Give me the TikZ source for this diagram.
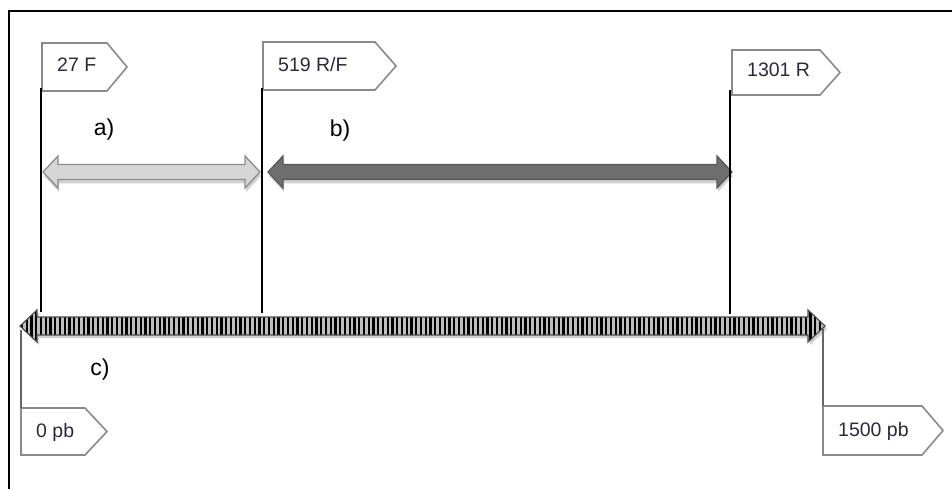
\documentclass[tikz,border=0pt]{standalone}
\usepackage{fontspec}
\setmainfont{Liberation Sans}
\definecolor{tagline}{HTML}{8A8A8A}
\definecolor{tagtxt}{HTML}{2A2A3C}
\definecolor{lightarr}{HTML}{D6D6D6}
\definecolor{lightedge}{HTML}{8C8C8C}
\definecolor{darkarr}{HTML}{6E6E6E}
\definecolor{darkedge}{HTML}{575757}
\tikzset{
  flagbox/.style={draw=tagline, line width=1.6pt, fill=white, line join=miter},
  tagtext/.style={text=tagtxt, inner sep=0pt, font=\fontsize{19.5}{19.5}\selectfont},
  lbl/.style={text=black, inner sep=0pt, font=\fontsize{23}{23}\selectfont},
  flagline/.style={draw=black, line width=2pt},
  greyline/.style={draw=black!60, line width=1.6pt},
  shadowfill/.style={fill=black, opacity=0.18},
}
\newcommand\tagflag[8]{%
  \draw[flagbox] (#2,#3) -- (#5,#3) -- (#6,{(#3+#4)/2}) -- (#5,#4) -- (#2,#4) -- cycle;
  \node[tagtext, anchor=base west] (#1) at ({#2+15},#8) {#7};
}
\newcommand\dblpath[6]{%
  (#1,#3) -- ({#1+#4},{#3-#5}) -- ({#1+#4},{#3-#6}) -- ({#2-#4},{#3-#6}) -- ({#2-#4},{#3-#5}) -- (#2,#3)
  -- ({#2-#4},{#3+#5}) -- ({#2-#4},{#3+#6}) -- ({#1+#4},{#3+#6}) -- ({#1+#4},{#3+#5}) -- cycle}
\begin{document}
\begin{tikzpicture}[x=1pt, y=-1pt]
\useasboundingbox (0,0) rectangle (952,489);
% frame
\draw[black, line width=1.6pt] (9,489) -- (9,11) -- (952,11);

% flags
\tagflag{t27}{42}{43}{91}{107}{127}{27 F}{72}
\tagflag{t519}{263}{42}{90}{375}{396}{519 R/F}{72}
\tagflag{t1301}{732}{50}{95}{820}{840}{1301 R}{77}
\tagflag{t0}{21}{408}{455}{85}{107}{0 pb}{437}
\tagflag{t1500}{823}{406}{455}{922}{943}{1500 pb}{436}

% arrow a (light)
\fill[shadowfill] \dblpath{44}{261}{176}{15}{16}{7.5};
\draw[draw=lightedge, line width=1.3pt, fill=lightarr] \dblpath{43}{260}{172}{15}{16}{7.5};
% arrow b (dark)
\fill[shadowfill] \dblpath{269}{733}{176}{15}{16}{7.5};
\draw[draw=darkedge, line width=1.3pt, fill=darkarr] \dblpath{268}{732}{172}{15}{16}{7.5};

% arrow c (striped)
\fill[shadowfill] \dblpath{22}{827}{329}{17}{16}{9};
\begin{scope}
  \clip \dblpath{20}{825}{326}{17}{16}{9};
  \fill[black!25] (15,305) rectangle (830,350);
  \foreach \x in {22,26.75,...,826} \draw[black, line width=2.3pt] (\x,305) -- (\x,350);
\end{scope}
\draw[draw=black!70, line width=1.2pt] \dblpath{20}{825}{326}{17}{16}{9};

% vertical lines
\coordinate (a27) at (41,88);   \coordinate (b27) at (41,312);
\coordinate (a519) at (262,88); \coordinate (b519) at (262,313);
\coordinate (a1301) at (730,90); \coordinate (b1301) at (730,314);
\draw[flagline] (a27) -- (b27);
\draw[flagline] (a519) -- (b519);
\draw[flagline] (a1301) -- (b1301);
\coordinate (c0) at (21,330);  \coordinate (d0) at (21,408);
\coordinate (c1500) at (823,329); \coordinate (d1500) at (823,406);
\draw[greyline] (c0) -- (d0);
\draw[greyline] (c1500) -- (d1500);

% labels
\node[lbl] (la) at (104,130) {a)};
\node[lbl] (lb) at (340,131) {b)};
\node[lbl] (lc) at (100,370) {c)};
\end{tikzpicture}
\end{document}
